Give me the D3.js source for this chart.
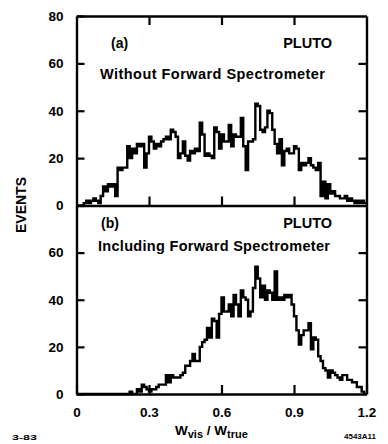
<!DOCTYPE html>
<html>
<head>
<meta charset="utf-8">
<script src="https://cdn.jsdelivr.net/npm/d3@7/dist/d3.min.js"></script>
<style>
  html, body { margin: 0; padding: 0; background: #fff; }
  svg { display: block; }
  text { font-family: "Liberation Sans", Arial, sans-serif; font-weight: bold; fill: #000; }
</style>
</head>
<body>
<div id="chart"></div>
<script>
// bin width of both histograms (W_vis / W_true)
const binWidth = 0.01;

// (a) without forward spectrometer, counts per 0.01 bin from 0 to 1.2
const countsA = [
  0, 0, 0, 1, 2, 1, 2, 3, 2, 1,
  4, 8, 6, 9, 8, 9, 4, 16, 15, 16,
  16, 25, 20, 24, 22, 26, 25, 26, 16, 22,
  29, 27, 24, 26, 25, 27, 28, 29, 28, 32,
  31, 29, 20, 22, 27, 21, 19, 23, 22, 24,
  23, 35, 30, 21, 22, 21, 20, 33, 31, 24,
  30, 27, 27, 34, 25, 30, 29, 29, 37, 25,
  15, 27, 27, 28, 43, 42, 32, 31, 33, 40,
  39, 32, 26, 22, 28, 17, 23, 24, 22, 22,
  25, 24, 15, 18, 17, 18, 20, 17, 16, 15,
  18, 4, 10, 3, 9, 5, 6, 4, 4, 3,
  3, 4, 2, 3, 2, 1, 2, 1, 2, 1
];

// (b) including forward spectrometer
const countsB = [
  0, 0, 0, 0, 0, 0, 0, 0, 0, 0,
  0, 0, 0, 0, 0, 0, 0, 0, 0, 0,
  0, 0, 1, 0, 0, 2, 1, 4, 3, 2,
  1, 2, 2, 3, 4, 4, 4, 8, 5, 8,
  7, 7, 7, 8, 9, 12, 12, 14, 17, 14,
  14, 20, 22, 23, 28, 24, 32, 31, 24, 34,
  41, 35, 35, 38, 33, 42, 38, 33, 44, 41,
  40, 33, 35, 45, 54, 49, 41, 46, 40, 44,
  43, 40, 52, 40, 41, 40, 42, 41, 42, 38,
  33, 27, 21, 25, 27, 27, 30, 19, 24, 23,
  16, 14, 11, 10, 7, 10, 9, 8, 7, 6,
  8, 8, 6, 6, 5, 5, 3, 3, 1, 0
];

const xDomain = [0, 1.2];
const yDomain = [0, 80];
const innerTicksY = [20, 40, 60];
const innerTicksX = [0.3, 0.6, 0.9];
const yLabelsA = [0, 20, 40, 60, 80];
const yLabelsB = [0, 20, 40, 60];
const xLabels = [0, 0.3, 0.6, 0.9, 1.2];

const panels = [
  { tag: '(a)', name: 'PLUTO', note: 'Without Forward Spectrometer', counts: countsA, labels: yLabelsA },
  { tag: '(b)', name: 'PLUTO', note: 'Including Forward Spectrometer', counts: countsB, labels: yLabelsB }
];

// 画布
const W = 388, H = 444;
const left = 76.5, right = 366.5;
const panelBox = [
  { top: 16, bottom: 205.5, tagX: 111, tagY: 48, nameY: 48, noteX: 100, noteY: 79, noteW: 225 },
  { top: 205.5, bottom: 394, tagX: 101, tagY: 228, nameY: 228, noteX: 98, noteY: 251, noteW: 232 }
];

const svg = d3.select('#chart')
  .append('svg')
  .attr('width', W)
  .attr('height', H);

const x = d3.scaleLinear().domain(xDomain).range([left, right]);

function styleAxis(g, size) {
  g.attr('font-family', null).attr('font-size', null);
  g.selectAll('.domain').attr('stroke', '#000').attr('stroke-width', 2.4);
  g.selectAll('.tick line').attr('stroke', '#000').attr('stroke-width', 2.2);
  g.selectAll('.tick text').style('font-size', size + 'px');
}

panels.forEach((p, k) => {
  const box = panelBox[k];
  const y = d3.scaleLinear().domain(yDomain).range([box.bottom, box.top]);
  const g = svg.append('g');

  // 直方图（阶梯线）
  const pts = p.counts.map((c, i) => [i * binWidth, c]);
  pts.push([xDomain[1], p.counts[p.counts.length - 1]]);
  const line = d3.line()
    .x(d => x(d[0]))
    .y(d => y(d[1]))
    .curve(d3.curveStepAfter);
  g.append('path')
    .datum(pts)
    .attr('fill', 'none')
    .attr('stroke', '#000')
    .attr('stroke-width', 2.4)
    .attr('stroke-linejoin', 'miter')
    .attr('d', line);

  // 左轴（带数字）
  g.append('g')
    .attr('transform', `translate(${left},0)`)
    .call(d3.axisLeft(y).tickValues(p.labels).tickSizeInner(-8).tickSizeOuter(0).tickPadding(13).tickFormat(d3.format('d')))
    .call(a => styleAxis(a, 13.5));

  // 右轴
  g.append('g')
    .attr('transform', `translate(${right},0)`)
    .call(d3.axisRight(y).tickValues(innerTicksY).tickSizeInner(-8).tickSizeOuter(0).tickFormat(''))
    .call(a => styleAxis(a, 13.5));

  // 底轴
  const bottomAxis = d3.axisBottom(x).tickSizeInner(-9).tickSizeOuter(0).tickPadding(13);
  if (k === panels.length - 1) {
    bottomAxis.tickValues(xLabels).tickFormat(d => d === 0 ? '0' : d3.format('.1f')(d));
  } else {
    bottomAxis.tickValues(innerTicksX).tickFormat('');
  }
  g.append('g')
    .attr('transform', `translate(0,${box.bottom})`)
    .call(bottomAxis)
    .call(a => styleAxis(a, 13.5));

  // 顶轴
  if (k === 0) {
    g.append('g')
      .attr('transform', `translate(0,${box.top})`)
      .call(d3.axisTop(x).tickValues(innerTicksX).tickSizeInner(-9).tickSizeOuter(0).tickFormat(''))
      .call(a => styleAxis(a, 13.5));
  }

  // 面板文字
  g.append('text')
    .attr('x', box.tagX)
    .attr('y', box.tagY)
    .style('font-size', '14px')
    .text(p.tag);

  g.append('text')
    .attr('x', 332)
    .attr('y', box.nameY)
    .attr('text-anchor', 'end')
    .style('font-size', '14.5px')
    .text(p.name);

  g.append('text')
    .attr('x', box.noteX)
    .attr('y', box.noteY)
    .attr('textLength', box.noteW)
    .attr('lengthAdjust', 'spacing')
    .style('font-size', '14.5px')
    .text(p.note);
});

// y 轴标签
svg.append('text')
  .attr('transform', 'translate(26,205) rotate(-90)')
  .attr('text-anchor', 'middle')
  .style('font-size', '14px')
  .text('EVENTS');

// x 轴标签
const xl = svg.append('text')
  .attr('x', 175)
  .attr('y', 435)
  .style('font-size', '13.5px');
xl.append('tspan').text('W');
xl.append('tspan').attr('dy', 3).style('font-size', '11px').text('vis');
xl.append('tspan').attr('dy', -3).text(' / W');
xl.append('tspan').attr('dy', 3).style('font-size', '11px').text('true');

// 角落编号
svg.append('text')
  .attr('x', 12)
  .attr('y', 440)
  .attr('textLength', 25)
  .attr('lengthAdjust', 'spacingAndGlyphs')
  .style('font-size', '8px')
  .text('3-83');

svg.append('text')
  .attr('x', 344)
  .attr('y', 439)
  .attr('textLength', 32)
  .attr('lengthAdjust', 'spacingAndGlyphs')
  .style('font-size', '7px')
  .text('4543A11');
</script>
</body>
</html>
